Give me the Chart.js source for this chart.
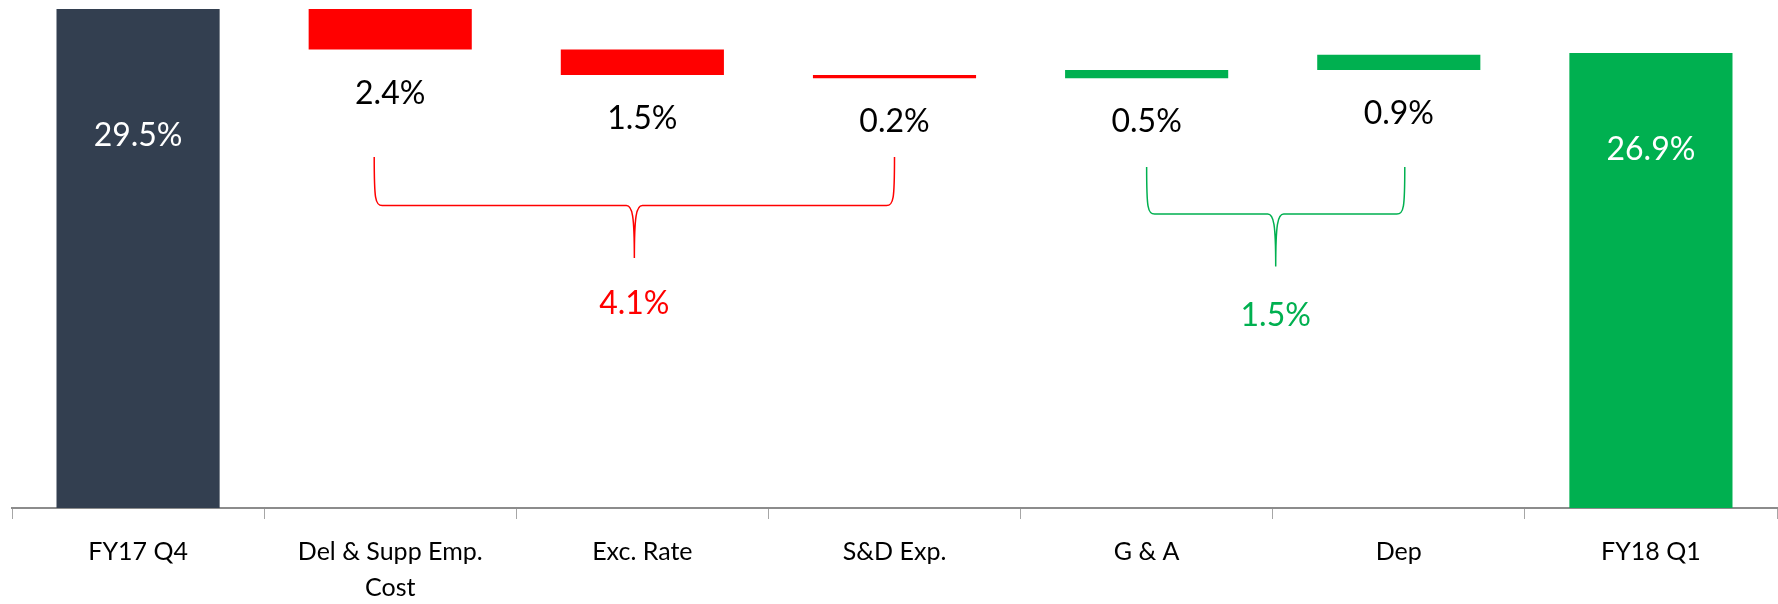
<!DOCTYPE html>
<html>
<head>
<meta charset="utf-8">
<script src="https://cdn.jsdelivr.net/npm/chart.js@4.4.1/dist/chart.umd.min.js"></script>
<style>
  html, body { margin: 0; padding: 0; background: #ffffff; }
  #wrap { width: 1778px; height: 604px; position: relative; }
</style>
</head>
<body>
<div id="wrap"><canvas id="myChart"></canvas></div>
<script>
const categories = ['FY17 Q4', ['Del & Supp Emp.', 'Cost'], 'Exc. Rate', 'S&D Exp.', 'G & A', 'Dep', 'FY18 Q1'];
const openingValue = 29.5;
const changes = [-2.4, -1.5, -0.2, 0.5, 0.9];
const closingValue = 26.9;
const groupFrom = [1, 4];
const groupTo = [3, 5];
const groupTotals = [4.1, 1.5];

const DARK = '#333F50';
const RED = '#FF0000';
const GREEN = '#00B050';

// floating bars for the waterfall
let running = openingValue;
const ranges = [[0, openingValue]];
changes.forEach((c) => {
    ranges.push([running, running + c]);
    running += c;
});
ranges.push([0, closingValue]);

const barColors = ranges.map((r, i) => {
    if (i === 0) return DARK;
    if (i === ranges.length - 1) return GREEN;
    return changes[i - 1] < 0 ? RED : GREEN;
});

// brace styling (pixel layout of the annotations)
const braceStyle = [
    { color: RED, dxL: -16, dxR: 0, top: 157, mid: 205.5, tip: 258, textY: 314 },
    { color: GREEN, dxL: 0, dxR: 6, top: 167, mid: 214, tip: 266.5, textY: 326 },
];

function drawBrace(ctx, L, R, top, mid, tip) {
    const C = (L + R) / 2;
    ctx.beginPath();
    ctx.moveTo(L, top);
    ctx.bezierCurveTo(L, mid - 6, L + 1, mid, L + 8, mid);
    ctx.lineTo(C - 8, mid);
    ctx.bezierCurveTo(C - 2, mid, C, mid + 10, C, tip);
    ctx.moveTo(C, tip);
    ctx.bezierCurveTo(C, mid + 10, C + 2, mid, C + 8, mid);
    ctx.lineTo(R - 8, mid);
    ctx.bezierCurveTo(R - 1, mid, R, mid - 6, R, top);
    ctx.stroke();
}

const waterfallLabels = {
    id: 'waterfallLabels',
    afterDatasetsDraw(chart) {
        const ctx = chart.ctx;
        const y = chart.scales.y;
        const x = chart.scales.x;
        const meta = chart.getDatasetMeta(0);
        ctx.save();
        ctx.font = '32px Lato';
        ctx.textAlign = 'center';
        ctx.textBaseline = 'alphabetic';
        meta.data.forEach((bar, i) => {
            const [a, b] = ranges[i];
            if (i === 0 || i === ranges.length - 1) {
                const top = y.getPixelForValue(Math.max(a, b));
                ctx.fillStyle = '#ffffff';
                ctx.fillText(Math.max(a, b).toFixed(1) + '%', bar.x, top + (i === 0 ? 137 : 107));
            } else {
                const bottom = y.getPixelForValue(Math.min(a, b));
                ctx.fillStyle = '#000000';
                ctx.fillText(Math.abs(changes[i - 1]).toFixed(1) + '%', bar.x, bottom + 54);
            }
        });

        groupTotals.forEach((total, g) => {
            const s = braceStyle[g];
            const L = x.getPixelForValue(groupFrom[g]) + s.dxL;
            const R = x.getPixelForValue(groupTo[g]) + s.dxR;
            ctx.strokeStyle = s.color;
            ctx.lineWidth = 1.5;
            drawBrace(ctx, L, R, s.top, s.mid, s.tip);
            ctx.fillStyle = s.color;
            ctx.fillText(total.toFixed(1) + '%', (L + R) / 2, s.textY);
        });
        ctx.restore();
    },
};

const config = {
    type: 'bar',
    data: {
        labels: categories,
        datasets: [{
            data: ranges,
            backgroundColor: barColors,
            borderWidth: 0,
            barPercentage: 0.647,
            categoryPercentage: 1,
        }],
    },
    options: {
        responsive: true,
        maintainAspectRatio: false,
        animation: false,
        layout: { padding: { left: 12, right: 1, top: 9, bottom: 0 } },
        plugins: {
            legend: { display: false },
            tooltip: { enabled: false },
        },
        scales: {
            x: {
                grid: {
                    offset: true,
                    drawOnChartArea: false,
                    drawTicks: true,
                    tickLength: 11,
                    color: '#A6A6A6',
                    lineWidth: 1,
                },
                border: { color: '#8C8C8C', width: 2 },
                ticks: {
                    color: '#000000',
                    font: { family: 'Lato', size: 25, lineHeight: 1.44 },
                    padding: 15,
                    maxRotation: 0,
                    autoSkip: false,
                },
                afterFit: (axis) => { axis.height = 96; },
            },
            y: {
                display: false,
                min: 0,
                max: 29.5,
            },
        },
    },
    plugins: [waterfallLabels],
};

const ctx = document.getElementById('myChart').getContext('2d');
const myChart = new Chart(ctx, config);
</script>
</body>
</html>
